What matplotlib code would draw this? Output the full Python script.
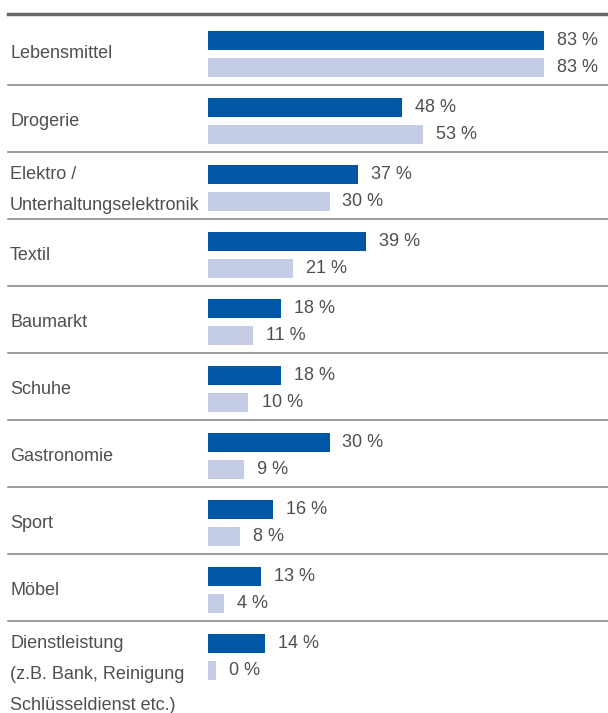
import matplotlib
matplotlib.use("Agg")
import matplotlib.pyplot as plt

plt.rcParams['font.family'] = ['Liberation Sans', 'DejaVu Sans']

categories = ["Lebensmittel", "Drogerie", "Elektro /\nUnterhaltungselektronik", "Textil",
              "Baumarkt", "Schuhe", "Gastronomie", "Sport", "Möbel",
              "Dienstleistung\n(z.B. Bank, Reinigung\nSchlüsseldienst etc.)"]
dark_vals = [83, 48, 37, 39, 18, 18, 30, 16, 13, 14]
light_vals = [83, 53, 30, 21, 11, 10, 9, 8, 4, 0]

dark_col = "#0057a5"
light_col = "#c5cde6"
txt_col = "#4f4f4f"

W, H = 608, 713
fig = plt.figure(figsize=(W / 100, H / 100), dpi=100)
ax = fig.add_axes([0, 0, 1, 1])
ax.axis('off')

px_per = 4.05   # pixels per percent
U = 67.0        # pixels per group
top = 18        # pixel row of first group start
left = -208 / px_per
ax.set_xlim(left, left + W / px_per)
ax.set_ylim((H - top) / U, -top / U)

n = len(categories)
dark_pos = [i + 22.5 / U for i in range(n)]
light_pos = [i + 49.5 / U for i in range(n)]
bh = 19 / U

light_draw = [max(v, 2) for v in light_vals]
ax.barh(dark_pos, dark_vals, height=bh, color=dark_col)
ax.barh(light_pos, light_draw, height=bh, color=light_col)

gap = 13 / px_per
fs = 13
for y, v in zip(dark_pos, dark_vals):
    ax.text(v + gap, y, f"{v} %", va='center', ha='left', fontsize=fs, color=txt_col)
for y, v, d in zip(light_pos, light_vals, light_draw):
    ax.text(d + gap, y, f"{v} %", va='center', ha='left', fontsize=fs, color=txt_col)

# separators
ax.axhline(-4 / U, xmin=8 / W, xmax=1, color="#666666", lw=2.5)
for i in range(1, n):
    ax.axhline(i, xmin=8 / W, xmax=1, color="#8a8a8a", lw=1.2)

trans = ax.get_yaxis_transform()
for i, cat in enumerate(categories):
    lines = cat.split("\n")
    if len(lines) == 1:
        ax.text(10 / W, (dark_pos[i] + light_pos[i]) / 2, cat, transform=trans,
                va='center', ha='left', fontsize=fs, color=txt_col)
    else:
        for j, ln in enumerate(lines):
            ax.text(10 / W, dark_pos[i] + j * 31 / U, ln, transform=trans,
                    va='center', ha='left', fontsize=fs, color=txt_col)

fig.savefig("out.png", dpi=100)
